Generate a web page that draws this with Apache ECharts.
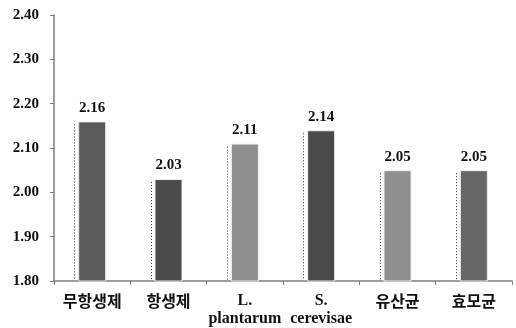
<!DOCTYPE html>
<html>
<head>
<meta charset="utf-8">
<script src="https://cdn.jsdelivr.net/npm/echarts@6/dist/echarts.min.js"></script>
<style>
  html, body { margin: 0; padding: 0; background: #fff; }
  #chart { width: 516px; height: 328px; }
</style>
</head>
<body>
<div id="chart"></div>
<script>
// Treatment groups along the x axis
var categories = ['무항생제', '항생제', 'L.\nplantarum', 'S.\ncerevisae', '유산균', '효모균'];
// Measured value per group
var values = [2.16, 2.03, 2.11, 2.14, 2.05, 2.05];
// Fill tone per group
var barColors = ['#5b5b5b', '#4b4b4b', '#8e8e8e', '#4a4a4a', '#8f8f8f', '#666666'];
// Value axis ticks
var yTicks = [1.80, 1.90, 2.00, 2.10, 2.20, 2.30, 2.40];

var serif = '"Liberation Serif", "Times New Roman", serif';
var korean = '"Noto Sans CJK KR", sans-serif';
var BAR_W = 28;

var chart = echarts.init(document.getElementById('chart'));
chart.setOption({
  animation: false,
  backgroundColor: '#ffffff',
  grid: { left: 54, right: 4, top: 15, bottom: 45 },
  xAxis: {
    type: 'category',
    data: categories,
    axisLine: { lineStyle: { color: '#7f7f7f', width: 1.5 } },
    axisTick: { show: true, length: 4, lineStyle: { color: '#7f7f7f' } },
    axisLabel: {
      margin: 11,
      interval: 0,
      color: '#111',
      fontWeight: 'bold',
      fontSize: 16,
      fontFamily: korean,
      lineHeight: 18,
      formatter: function (v) {
        return v.indexOf('\n') >= 0 ? '{s|' + v + '}' : v;
      },
      rich: {
        s: { fontFamily: serif, fontWeight: 'bold', fontSize: 16, lineHeight: 18, color: '#111' }
      }
    }
  },
  yAxis: {
    type: 'value',
    min: 1.8,
    max: 2.4,
    interval: 0.1,
    axisLine: { show: true, lineStyle: { color: '#7f7f7f', width: 1.5 } },
    axisTick: { show: true, length: 4, lineStyle: { color: '#7f7f7f' } },
    splitLine: { show: false },
    axisLabel: {
      margin: 15,
      color: '#111',
      fontWeight: 'bold',
      fontSize: 15,
      fontFamily: serif,
      formatter: function (v) { return v.toFixed(2); }
    }
  },
  series: [
    {
      type: 'bar',
      barWidth: BAR_W,
      data: values.map(function (v, i) {
        return { value: v, itemStyle: { color: barColors[i] } };
      }),
      itemStyle: { borderColor: '#eeeeee', borderWidth: 1 },
      label: {
        show: true,
        position: 'top',
        distance: 6,
        color: '#111',
        fontWeight: 'bold',
        fontSize: 15,
        fontFamily: serif,
        formatter: function (p) { return p.value.toFixed(2); }
      }
    },
    {
      // dotted guide running up the left side of each bar
      type: 'custom',
      silent: true,
      z: 1,
      data: values.map(function (v, i) { return [i, v]; }),
      renderItem: function (params, api) {
        var top = api.coord([api.value(0), api.value(1)]);
        var base = api.coord([api.value(0), 1.8]);
        var x = Math.round(top[0] - BAR_W / 2 - 4) + 0.5;
        return {
          type: 'line',
          shape: { x1: x, y1: top[1] + 3, x2: x, y2: base[1] - 1 },
          style: { stroke: '#333', lineWidth: 1, lineDash: [1, 2] }
        };
      }
    }
  ]
});
</script>
</body>
</html>
